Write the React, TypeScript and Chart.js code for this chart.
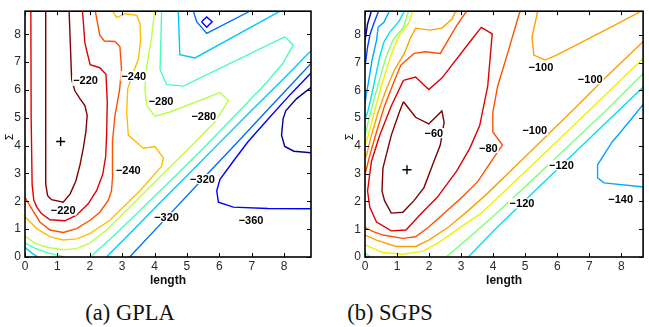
import React, { useEffect, useRef } from 'react';
import { Chart, registerables } from 'chart.js';

Chart.register(...registerables);

// ---------- shared axis data ----------
const X_TICKS = [0, 1, 2, 3, 4, 5, 6, 7, 8];
const Y_TICKS = [0, 1, 2, 3, 4, 5, 6, 7, 8];
const X_LABEL = 'length';
const Y_LABEL = 'Σ';
const CAPTION_A = '(a) GPLA';
const CAPTION_B = '(b) SGPS';

// ---------- panel (a) GPLA contour lines, [length, Σ] ----------
const A_MAROON = [[0.64, 8.9], [0.64, 4.5], [0.64, 2.61], [0.70, 2.20], [0.82, 2.06], [1.18, 1.97], [1.39, 2.26], [1.57, 2.73], [1.70, 3.32], [1.80, 3.91], [1.88, 4.50], [1.92, 5.09], [1.85, 5.44], [1.70, 5.68], [1.54, 5.97], [1.44, 6.38], [1.41, 7.33], [1.36, 8.9]];
const A_RED = [[0.18, 8.9], [0.19, 5.0], [0.22, 2.6], [0.27, 2.05], [0.36, 1.8], [0.5, 1.57], [0.77, 1.34], [1.23, 1.30], [1.59, 1.50], [1.95, 1.91], [2.21, 2.38], [2.4, 2.97], [2.49, 3.6], [2.52, 4.38], [2.54, 5.56], [2.5, 6.56], [2.31, 6.80], [2.01, 6.91], [1.85, 7.68], [1.77, 8.9]];
const A_ORANGE = [[-0.05, 2.2], [0.0, 2.14], [0.21, 1.73], [0.46, 1.26], [0.77, 0.97], [1.18, 0.88], [1.59, 1.02], [2.01, 1.32], [2.31, 1.61], [2.57, 2.03], [2.67, 2.38], [2.71, 2.97], [2.70, 4.15], [2.78, 5.1], [2.92, 6.0], [2.98, 6.75], [2.93, 7.56], [2.78, 7.74], [2.45, 7.76], [2.31, 7.97], [2.16, 8.9]];
const A_YELLOW = [[-0.05, 1.5], [0, 1.45], [0.36, 1.02], [0.77, 0.73], [1.18, 0.61], [1.6, 0.65], [2.01, 0.85], [2.62, 1.32], [3.55, 2.38], [4.22, 3.26], [4.27, 3.56], [4.01, 3.97], [3.65, 3.91], [3.19, 4.38], [3.14, 5.21], [3.17, 6.03], [3.3, 6.5], [3.5, 7.1], [3.57, 7.8], [3.55, 8.39], [3.45, 8.68], [3.09, 8.74], [2.83, 8.6], [2.67, 8.9]];
const A_YGREEN = [[4.01, 8.9], [3.91, 7.92], [3.76, 6.86], [3.70, 6.03], [3.76, 5.44], [4.01, 5.06], [4.48, 5.21], [6.02, 5.91], [6.28, 5.62], [5.86, 4.85], [5.1, 3.95], [4.1, 2.8], [3.2, 1.75], [2.5, 0.95], [2.0, 0.5], [1.6, 0.3], [1.2, 0.26], [0.7, 0.34], [0.3, 0.5], [0, 0.75], [-0.05, 0.8]];
const A_GREEN = [[4.22, 8.9], [4.17, 6.73], [4.37, 6.20], [4.89, 6.14], [8.02, 7.91], [8.28, 7.62], [7.97, 6.97], [7.46, 6.27], [6.5, 5.1], [5.5, 3.9], [4.5, 2.75], [3.5, 1.62], [2.7, 0.72], [2.2, 0.2], [2.0, -0.05]];
const A_GREEN_CORNER = [[-0.05, 0.53], [0, 0.5], [0.3, 0.32], [0.7, 0.15], [1.1, 0.04], [1.3, -0.05]];
const A_CYAN_TOP = [[4.73, 8.9], [4.78, 7.27], [5.25, 7.15], [7.82, 8.8], [7.95, 8.9]];
const A_CYAN = [[2.47, -0.05], [3.2, 0.8], [4.0, 1.75], [5.0, 2.92], [6.0, 4.1], [7.0, 5.27], [8.0, 6.42], [8.95, 7.55]];
const A_CYAN_CORNER = [[-0.05, 0.38], [0, 0.35], [0.2, 0.15], [0.46, -0.05]];
const A_AZURE_TOP = [[5.18, 8.9], [5.30, 8.45], [5.61, 8.03], [6.89, 8.8], [6.95, 8.9]];
const A_AZURE = [[3.19, -0.05], [4.4, 1.45], [5.5, 2.82], [6.5, 4.05], [7.5, 5.3], [8.95, 7.1]];
const A_BLUE = [[8.95, 6.75], [8.2, 5.85], [7.5, 4.95], [6.89, 4.15], [6.43, 3.44], [6.02, 2.79], [5.92, 2.38], [5.97, 1.97], [6.43, 1.79], [7.5, 1.74], [8.95, 1.73]];
const A_DIAMOND = [[5.45, 8.45], [5.61, 8.62], [5.78, 8.45], [5.61, 8.25], [5.45, 8.45]];
const A_NAVY = [[8.95, 6.2], [8.38, 5.68], [8.05, 5.25], [7.97, 4.97], [7.92, 4.38], [8.02, 3.97], [8.3, 3.8], [8.95, 3.73]];
const A_MAX = [1.10, 4.15];
const A_LABEL_TEXT = ['−220', '−220', '−240', '−240', '−280', '−280', '−320', '−320', '−360'];
const A_LABEL_X = [1.87, 1.18, 3.36, 3.19, 4.20, 5.52, 5.48, 4.37, 6.98];
const A_LABEL_Y = [6.33, 1.67, 6.50, 3.12, 5.59, 5.06, 2.80, 1.43, 1.31];

// ---------- panel (b) SGPS contour lines ----------
const B_MAROON = [[1.20, 5.59], [1.58, 5.03], [1.99, 4.79], [2.40, 5.26], [2.47, 4.85], [2.35, 4.03], [2.15, 3.44], [1.84, 2.50], [1.53, 2.03], [1.18, 1.61], [0.82, 1.58], [0.61, 2.03], [0.53, 2.38], [0.56, 3.20], [0.82, 4.38], [1.07, 5.21], [1.20, 5.59]];
const B_RED = [[1.20, 6.36], [1.58, 6.48], [1.99, 6.03], [2.40, 6.44], [3.27, 7.74], [3.63, 8.27], [3.97, 8.03], [3.83, 6.15], [3.58, 4.73], [3.27, 3.91], [2.86, 3.09], [2.25, 2.14], [1.74, 1.55], [1.28, 0.97], [0.82, 0.94], [0.36, 1.26], [0.15, 1.79], [0.08, 2.38], [0.20, 3.44], [0.46, 4.38], [0.82, 5.44], [1.20, 6.36]];
const B_ORED_UL = [[3.2, 8.9], [2.86, 8.33], [2.35, 7.33], [1.89, 7.39], [1.53, 7.33], [1.12, 6.91], [0.87, 6.21], [0.61, 5.44], [0.36, 4.5], [0.15, 3.67], [0.05, 3.2], [0, 2.97], [-0.05, 2.9]];
const B_ORED = [[4.85, 8.9], [4.45, 7.33], [4.14, 6.15], [3.99, 5.21], [3.99, 4.50], [4.29, 4.03], [3.94, 3.44], [3.53, 2.73], [3.02, 2.14], [2.40, 1.50], [1.99, 1.08], [1.58, 0.73], [1.18, 0.67], [0.56, 0.79], [0.26, 0.91], [0, 1.06], [-0.05, 1.1]];
const B_ORANGE_UL = [[2.85, 8.9], [2.71, 8.56], [2.40, 8.24], [2.04, 8.17], [1.58, 8.24], [1.41, 7.86], [1.23, 7.33], [0.92, 6.74], [0.66, 6.03], [0.41, 5.21], [0.20, 4.38], [0.05, 3.67], [0, 3.56], [-0.05, 3.5]];
const B_ORANGE = [[-0.05, 0.82], [0, 0.79], [0.36, 0.61], [0.97, 0.38], [1.58, 0.38], [1.99, 0.61], [2.61, 1.08], [3.22, 1.67], [3.83, 2.3], [5.16, 3.79], [6.5, 5.3], [7.5, 6.45], [8.9, 8.0]];
const B_ORANGE_POCKET = [[5.4, 8.9], [5.21, 7.92], [5.27, 7.27], [5.62, 7.09], [5.98, 7.27], [7.3, 8.05], [8.64, 8.86], [8.7, 8.9]];
const B_YELLOW_UL = [[1.5, 8.9], [1.38, 8.45], [1.07, 7.97], [0.87, 7.44], [0.70, 6.86], [0.51, 6.15], [0.29, 5.21], [0.10, 4.38], [0, 4.03], [-0.05, 3.9]];
const B_YELLOW = [[-0.05, 0.47], [0, 0.44], [0.56, 0.16], [1.18, 0.1], [1.79, 0.2], [2.30, 0.52], [3.02, 1.1], [3.6, 1.55], [4.8, 2.85], [5.98, 4.15], [7.5, 5.83], [8.9, 7.4]];
const B_GREEN_UL = [[1.37, 8.9], [1.20, 8.27], [0.87, 7.80], [0.66, 7.21], [0.51, 6.62], [0.31, 5.8], [0.12, 4.97], [0, 4.38], [-0.05, 4.2]];
const B_GREEN_CORNER = [[-0.05, 0.17], [0, 0.14], [0.2, -0.03]];
const B_GREEN = [[2.5, -0.03], [3.22, 0.67], [4.04, 1.5], [5.2, 2.75], [6.49, 4.15], [7.5, 5.25], [8.9, 6.85]];
const B_CYAN_UL = [[1.25, 8.9], [1.07, 8.5], [0.77, 8.09], [0.59, 7.74], [0.46, 7.21], [0.33, 6.50], [0.18, 5.68], [0.08, 5.21], [0, 4.97], [-0.05, 4.85]];
const B_CYAN = [[3.2, -0.03], [4.04, 0.97], [5.5, 2.6], [6.90, 4.15], [8.9, 6.36]];
const B_AZURE_UL = [[0.78, 8.9], [0.59, 8.45], [0.41, 8.27], [0.36, 7.80], [0.22, 7.09], [0.12, 6.38], [0.05, 5.91], [0, 5.56], [-0.05, 5.4]];
const B_AZURE = [[8.9, 5.8], [7.98, 4.50], [7.72, 4.15], [7.26, 3.32], [7.26, 2.85], [7.46, 2.67], [8.9, 2.5]];
const B_BLUE_UL = [[0.44, 8.9], [0.29, 8.45], [0.16, 8.03], [0.08, 7.56], [0.02, 7.03], [0, 6.95], [-0.05, 6.8]];
const B_NAVY_UL = [[0.21, 8.9], [0.08, 8.39], [0.02, 7.92], [0, 7.85], [-0.05, 7.7]];
const B_MAX = [1.31, 3.14];
const B_LABEL_TEXT = ['−60', '−80', '−100', '−100', '−100', '−120', '−120', '−140'];
const B_LABEL_X = [2.15, 3.85, 5.49, 7.03, 5.30, 6.13, 4.90, 7.98];
const B_LABEL_Y = [4.46, 3.92, 6.83, 6.40, 4.56, 3.30, 1.93, 2.07];

// ---------- colours (jet-like) ----------
const C = {
  maroon: '#800000',
  red: '#e00000',
  ored: '#ff5000',
  orange: '#ffa000',
  yorange: '#ffbf00',
  yellow: '#f0f000',
  ygreen: '#b8ff48',
  green: '#48ffb8',
  lgreen: '#80ff80',
  cyan: '#00c8ff',
  tcyan: '#00e0f0',
  azure: '#0070ff',
  sky: '#00a8ff',
  blue: '#0000ff',
  blue2: '#0040ff',
  navy: '#000090',
};

const A_LINES = [
  { pts: A_MAROON, c: C.maroon },
  { pts: A_RED, c: C.red },
  { pts: A_ORANGE, c: C.ored },
  { pts: A_YELLOW, c: C.yorange },
  { pts: A_YGREEN, c: C.ygreen },
  { pts: A_GREEN, c: C.green },
  { pts: A_GREEN_CORNER, c: C.green },
  { pts: A_CYAN_TOP, c: C.cyan },
  { pts: A_CYAN, c: C.cyan },
  { pts: A_CYAN_CORNER, c: C.cyan },
  { pts: A_AZURE_TOP, c: C.azure },
  { pts: A_AZURE, c: C.azure },
  { pts: A_BLUE, c: C.blue },
  { pts: A_DIAMOND, c: C.blue },
  { pts: A_NAVY, c: C.navy },
];

const B_LINES = [
  { pts: B_MAROON, c: C.maroon },
  { pts: B_RED, c: C.red },
  { pts: B_ORED_UL, c: C.ored },
  { pts: B_ORED, c: C.ored },
  { pts: B_ORANGE_UL, c: C.orange },
  { pts: B_ORANGE, c: C.orange },
  { pts: B_ORANGE_POCKET, c: C.orange },
  { pts: B_YELLOW_UL, c: C.yellow },
  { pts: B_YELLOW, c: C.yellow },
  { pts: B_GREEN_UL, c: C.lgreen },
  { pts: B_GREEN_CORNER, c: C.lgreen },
  { pts: B_GREEN, c: C.lgreen },
  { pts: B_CYAN_UL, c: C.tcyan },
  { pts: B_CYAN, c: C.tcyan },
  { pts: B_AZURE_UL, c: C.sky },
  { pts: B_AZURE, c: C.sky },
  { pts: B_BLUE_UL, c: C.blue2 },
  { pts: B_NAVY_UL, c: C.navy },
];

const TICK_FONT = "'Liberation Sans Narrow', 'Liberation Sans', Arial, sans-serif";

const framePlugin = {
  id: 'contourFrame',
  afterDatasetsDraw(chart: any, _args: any, opts: any) {
    const { ctx, chartArea: a } = chart;
    const x = chart.scales.x;
    const y = chart.scales.y;
    ctx.save();
    // contour labels
    ctx.font = `bold 11px ${TICK_FONT}`;
    ctx.textAlign = 'center';
    ctx.textBaseline = 'middle';
    (opts.texts || []).forEach((t: string, i: number) => {
      const px = x.getPixelForValue(opts.lx[i]);
      const py = y.getPixelForValue(opts.ly[i]);
      const w = ctx.measureText(t).width;
      ctx.fillStyle = '#ffffff';
      ctx.fillRect(px - w / 2 - 1, py - 5, w + 2, 10);
      ctx.fillStyle = '#000000';
      ctx.fillText(t, px, py + 0.5);
    });
    // box
    ctx.strokeStyle = '#000';
    ctx.lineWidth = 1.6;
    ctx.strokeRect(a.left, a.top, a.right - a.left, a.bottom - a.top);
    // inward ticks on all sides
    ctx.lineWidth = 1;
    ctx.beginPath();
    X_TICKS.forEach((v) => {
      const px = Math.round(x.getPixelForValue(v)) + 0.5;
      ctx.moveTo(px, a.bottom); ctx.lineTo(px, a.bottom - 4);
      ctx.moveTo(px, a.top); ctx.lineTo(px, a.top + 4);
    });
    Y_TICKS.forEach((v) => {
      const py = Math.round(y.getPixelForValue(v)) + 0.5;
      ctx.moveTo(a.left, py); ctx.lineTo(a.left + 4, py);
      ctx.moveTo(a.right, py); ctx.lineTo(a.right - 4, py);
    });
    ctx.stroke();
    // axis titles
    ctx.fillStyle = '#111';
    ctx.font = `bold 12px ${TICK_FONT}`;
    ctx.textAlign = 'center';
    ctx.textBaseline = 'middle';
    ctx.fillText(X_LABEL, (a.left + a.right) / 2, a.bottom + 24);
    ctx.save();
    ctx.translate(a.left - 15, (a.top + a.bottom) / 2 + 3);
    ctx.rotate(-Math.PI / 2);
    ctx.font = `11px 'DejaVu Sans', sans-serif`;
    ctx.fillText(Y_LABEL, 0, 0);
    ctx.restore();
    ctx.restore();
  },
};

type PanelProps = {
  left: number;
  width: number;
  yAxisWidth: number;
  padRight: number;
  padTop: number;
  xMax: number;
  yMax: number;
  lines: { pts: number[][]; c: string }[];
  max: number[];
  texts: string[];
  lx: number[];
  ly: number[];
};

function Panel(p: PanelProps) {
  const ref = useRef<HTMLCanvasElement>(null);
  useEffect(() => {
    const datasets: any[] = p.lines.map((l) => ({
      data: l.pts.map(([x, y]) => ({ x, y })),
      showLine: true,
      borderColor: l.c,
      backgroundColor: l.c,
      borderWidth: 1.4,
      pointRadius: 0,
      pointHoverRadius: 0,
      tension: 0,
      fill: false,
      clip: 0,
    }));
    datasets.push({
      data: [{ x: p.max[0], y: p.max[1] }],
      showLine: false,
      pointStyle: 'cross',
      pointRadius: 4.5,
      borderColor: '#000',
      backgroundColor: '#000',
      borderWidth: 1.4,
    });
    const chart = new Chart(ref.current as HTMLCanvasElement, {
      type: 'scatter',
      data: { datasets },
      options: {
        animation: false,
        responsive: false,
        maintainAspectRatio: false,
        devicePixelRatio: 1,
        events: [],
        layout: { padding: { left: 0, right: p.padRight, top: p.padTop, bottom: 0 } },
        plugins: {
          legend: { display: false },
          tooltip: { enabled: false },
          contourFrame: { texts: p.texts, lx: p.lx, ly: p.ly },
        } as any,
        scales: {
          x: {
            type: 'linear',
            min: 0,
            max: p.xMax,
            afterBuildTicks: (s: any) => { s.ticks = X_TICKS.map((v) => ({ value: v })); },
            afterFit: (s: any) => { s.height = 38; },
            grid: { display: false, drawTicks: false },
            border: { display: false },
            ticks: {
              padding: 2,
              color: '#2a2a2a',
              font: { family: TICK_FONT, size: 12 },
              maxRotation: 0,
              autoSkip: false,
              callback: (v: any) => String(v),
            },
          },
          y: {
            type: 'linear',
            min: 0,
            max: p.yMax,
            afterBuildTicks: (s: any) => { s.ticks = Y_TICKS.map((v) => ({ value: v })); },
            afterFit: (s: any) => { s.width = p.yAxisWidth; },
            grid: { display: false, drawTicks: false },
            border: { display: false },
            ticks: {
              padding: 4,
              color: '#2a2a2a',
              font: { family: TICK_FONT, size: 12 },
              autoSkip: false,
              callback: (v: any) => String(v),
            },
          },
        },
      } as any,
      plugins: [framePlugin],
    });
    return () => chart.destroy();
  }, []);
  return (
    <canvas
      ref={ref}
      width={p.width}
      height={295}
      style={{ position: 'absolute', left: p.left, top: 0, width: p.width, height: 295 }}
    />
  );
}

const captionStyle = (cx: number): React.CSSProperties => ({
  position: 'absolute',
  left: cx - 80,
  width: 160,
  top: 299,
  textAlign: 'center',
  fontFamily: "'Liberation Serif', 'DejaVu Serif', serif",
  fontSize: 22.5,
  lineHeight: '28px',
  color: '#111',
});

export default function App() {
  return (
    <div style={{ position: 'fixed', left: 0, top: 0, width: 649, height: 327, background: '#fff', overflow: 'hidden' }}>
      <Panel
        left={0}
        width={325}
        yAxisWidth={25}
        padRight={14}
        padTop={8}
        xMax={8.83}
        yMax={8.83}
        lines={A_LINES}
        max={A_MAX}
        texts={A_LABEL_TEXT}
        lx={A_LABEL_X}
        ly={A_LABEL_Y}
      />
      <Panel
        left={325}
        width={324}
        yAxisWidth={40}
        padRight={1}
        padTop={7}
        xMax={8.68}
        yMax={8.85}
        lines={B_LINES}
        max={B_MAX}
        texts={B_LABEL_TEXT}
        lx={B_LABEL_X}
        ly={B_LABEL_Y}
      />
      <div style={captionStyle(130)}>{CAPTION_A}</div>
      <div style={captionStyle(390)}>{CAPTION_B}</div>
    </div>
  );
}
